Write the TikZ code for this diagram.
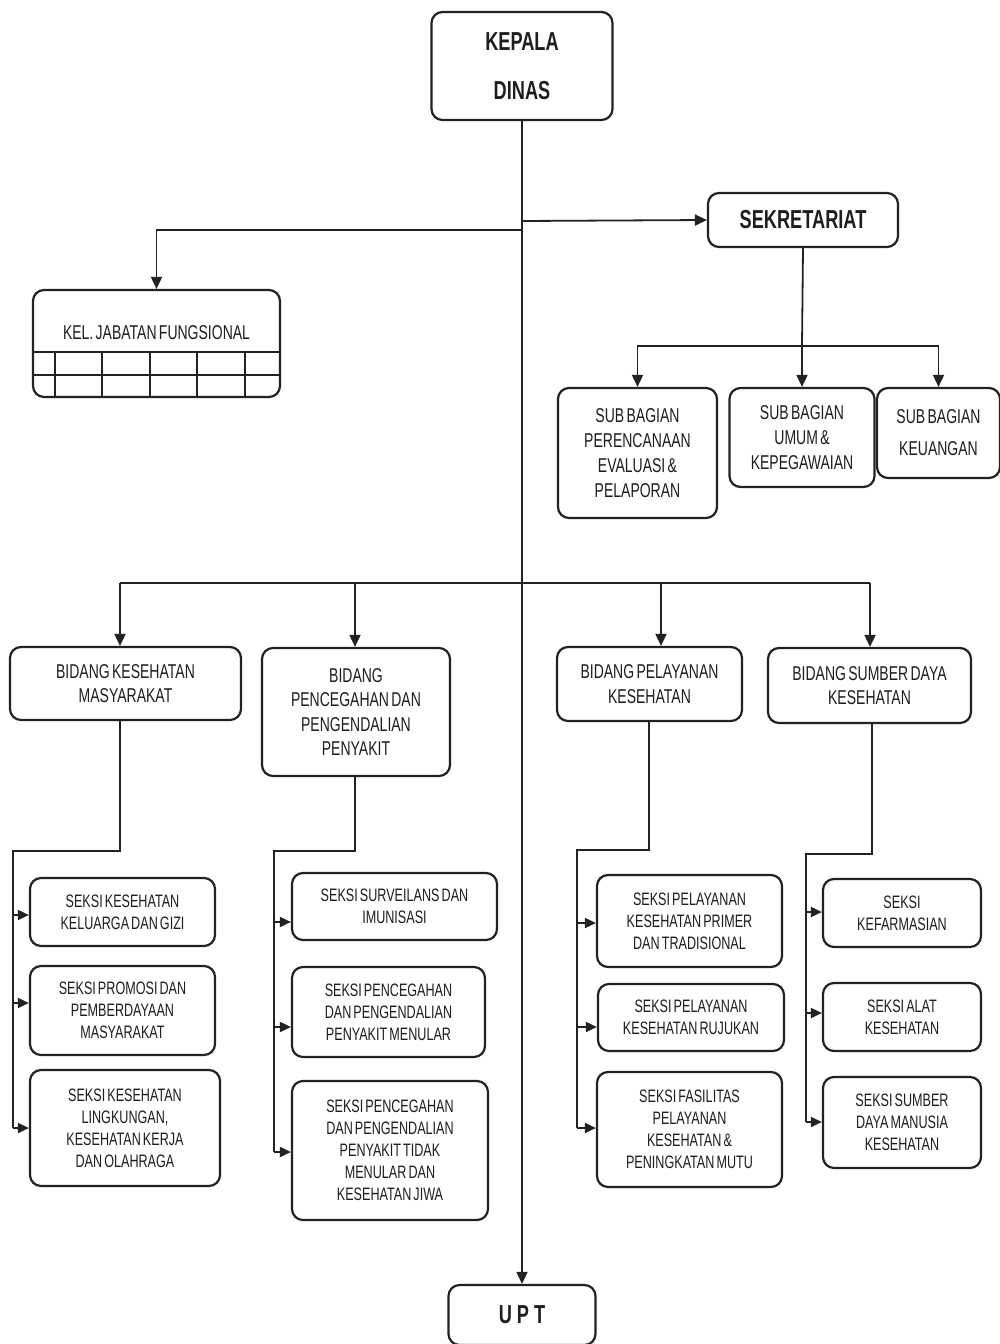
\documentclass[tikz,border=0pt]{standalone}
\usepackage{fontspec}
\newfontfamily\nf{Liberation Sans}[FakeStretch=0.7,WordSpace=0.6]
\usetikzlibrary{arrows.meta}
\definecolor{lc}{HTML}{222222}
\definecolor{tc}{HTML}{1E1E1E}
\begin{document}
\begin{tikzpicture}[x=1pt,y=-1pt,
  ln/.style={line width=1.8pt, draw=lc},
  arr/.style={ln, -{Triangle[length=12pt,width=11pt]}},
  sarr/.style={ln, -{Triangle[length=11pt,width=10pt]}},
  box/.style={draw=lc, line width=2.2pt, rounded corners=11pt, align=center, inner sep=2pt, text=tc},
  sk/.style={box, font=\nf\fontsize{18}{22}\selectfont},
  bd/.style={box, font=\nf\fontsize{20}{24.5}\selectfont},
  sb/.style={box, font=\nf\fontsize{20}{25}\selectfont},
  hd/.style={box, font=\nf\bfseries\fontsize{26}{49}\selectfont}
  ]
\useasboundingbox (0,0) rectangle (1000,1344);
\fill[white] (0,0) rectangle (1000,1344);
\clip (0,0) rectangle (1000,1344);

% top
\node[hd, minimum width=181pt, minimum height=108pt] (kep) at (522,66) {KEPALA\\DINAS};
\node[hd, minimum width=190pt, minimum height=54pt] (sek) at (803,220) {SEKRETARIAT};
\node[hd, minimum width=147pt, minimum height=60pt] (upt) at (522,1315) {U\hspace{5pt}P\hspace{5pt}T};

% kelompok jabatan fungsional
\node[box, minimum width=247pt, minimum height=107pt] (kel) at (156.5,343.5) {};
\node[font=\nf\fontsize{20}{24}\selectfont, text=tc] (kelt) at (156.5,333) {KEL. JABATAN FUNGSIONAL};
\draw[ln] (kel.west |- 0,352) -- (kel.east |- 0,352);
\draw[ln] (kel.west |- 0,375) -- (kel.east |- 0,375);
\foreach \x in {55,102,150,197,245}{
  \draw[ln] (\x,352) -- (kel.south -| \x,0);
}

% sub bagian
\node[sb, minimum width=159pt, minimum height=130pt] (s1) at (637.5,453) {SUB BAGIAN\\PERENCANAAN\\EVALUASI \&\\PELAPORAN};
\node[sb, minimum width=145pt, minimum height=99pt] (s2) at (802,437.5) {SUB BAGIAN\\UMUM \&\\KEPEGAWAIAN};
\node[box, font=\nf\fontsize{20}{32}\selectfont, minimum width=123pt, minimum height=90pt] (s3) at (938.5,433) {SUB BAGIAN\\KEUANGAN};

% bidang
\node[bd, minimum width=231pt, minimum height=73pt] (bk) at (125.5,683.5) {BIDANG KESEHATAN\\MASYARAKAT};
\node[bd, minimum width=188pt, minimum height=128pt] (bp) at (356,712) {BIDANG\\PENCEGAHAN DAN\\PENGENDALIAN\\PENYAKIT};
\node[bd, minimum width=185pt, minimum height=74pt] (bl) at (649.5,684) {BIDANG PELAYANAN\\KESEHATAN};
\node[bd, minimum width=203pt, minimum height=75pt] (bs) at (869.5,685.5) {BIDANG SUMBER DAYA\\KESEHATAN};

% seksi
\node[sk, minimum width=185pt, minimum height=68pt] (a1) at (122.5,912) {SEKSI KESEHATAN\\KELUARGA DAN GIZI};
\node[sk, minimum width=185pt, minimum height=89pt] (a2) at (122.5,1010.5) {SEKSI PROMOSI DAN\\PEMBERDAYAAN\\MASYARAKAT};
\node[sk, minimum width=190pt, minimum height=116pt] (a3) at (125,1128) {SEKSI KESEHATAN\\LINGKUNGAN,\\KESEHATAN KERJA\\DAN OLAHRAGA};

\node[sk, minimum width=205pt, minimum height=67pt] (b1) at (394.5,906.5) {SEKSI SURVEILANS DAN\\IMUNISASI};
\node[sk, minimum width=193pt, minimum height=90pt] (b2) at (388.5,1012) {SEKSI PENCEGAHAN\\DAN PENGENDALIAN\\PENYAKIT MENULAR};
\node[sk, minimum width=196pt, minimum height=139pt] (b3) at (390,1150.5) {SEKSI PENCEGAHAN\\DAN PENGENDALIAN\\PENYAKIT TIDAK\\MENULAR DAN\\KESEHATAN JIWA};

\node[sk, minimum width=185pt, minimum height=92pt] (c1) at (689.5,921) {SEKSI PELAYANAN\\KESEHATAN PRIMER\\DAN TRADISIONAL};
\node[sk, minimum width=186pt, minimum height=67pt] (c2) at (691,1017.5) {SEKSI PELAYANAN\\KESEHATAN RUJUKAN};
\node[sk, minimum width=185pt, minimum height=115pt] (c3) at (689.5,1129.5) {SEKSI FASILITAS\\PELAYANAN\\KESEHATAN \&\\PENINGKATAN MUTU};

\node[sk, minimum width=158pt, minimum height=68pt] (d1) at (902,913) {SEKSI\\KEFARMASIAN};
\node[sk, minimum width=158pt, minimum height=68pt] (d2) at (902,1017) {SEKSI ALAT\\KESEHATAN};
\node[sk, minimum width=158pt, minimum height=91pt] (d3) at (902,1122.5) {SEKSI SUMBER\\DAYA MANUSIA\\KESEHATAN};

% main trunk
\draw[arr] (kep.south) -- (upt.north);
\coordinate (j1) at (522,230);
\coordinate (j2) at (522,221);
\draw[arr] (j1) -| (kel.north);
\draw[arr] (j2) -- (sek.west);

% sekretariat bus
\coordinate (sbus) at (802,346);
\draw[ln] (sek.south) -- (sbus);
\draw[arr] (sbus) -| (s1.north);
\draw[arr] (sbus) -| (s3.north);
\draw[arr] (sbus) -- (s2.north);

% bidang bus
\coordinate (ak) at (120,583);
\coordinate (ap) at (355,583);
\coordinate (al) at (661,583);
\coordinate (as) at (870,583);
\draw[ln] (ak) -- (as);
\draw[arr] (ak) -- (ak |- bk.north);
\draw[arr] (ap) -- (ap |- bp.north);
\draw[arr] (al) -- (al |- bl.north);
\draw[arr] (as) -- (as |- bs.north);

% column A
\coordinate (ta) at (13,851);
\draw[ln] (bk.south -| 120,0) |- (ta) -- (13,1128);
\draw[sarr] (ta |- 0,915) -- (a1.west |- 0,915);
\draw[sarr] (ta |- 0,1003) -- (a2.west |- 0,1003);
\draw[sarr] (ta |- 0,1128) -- (a3.west |- 0,1128);

% column B
\coordinate (tb) at (274,851);
\draw[ln] (bp.south -| 355,0) |- (tb) -- (274,1152);
\draw[sarr] (tb |- 0,922) -- (b1.west |- 0,922);
\draw[sarr] (tb |- 0,1027) -- (b2.west |- 0,1027);
\draw[sarr] (tb |- 0,1152) -- (b3.west |- 0,1152);

% column C
\coordinate (tc) at (577,850);
\draw[ln] (bl.south -| 649,0) |- (tc) -- (577,1128);
\draw[sarr] (tc |- 0,923) -- (c1.west |- 0,923);
\draw[sarr] (tc |- 0,1027) -- (c2.west |- 0,1027);
\draw[sarr] (tc |- 0,1128) -- (c3.west |- 0,1128);

% column D
\coordinate (td) at (806,854);
\draw[ln] (bs.south -| 872,0) |- (td) -- (806,1122);
\draw[sarr] (td |- 0,912) -- (d1.west |- 0,912);
\draw[sarr] (td |- 0,1013) -- (d2.west |- 0,1013);
\draw[sarr] (td |- 0,1122) -- (d3.west |- 0,1122);
\end{tikzpicture}
\end{document}
